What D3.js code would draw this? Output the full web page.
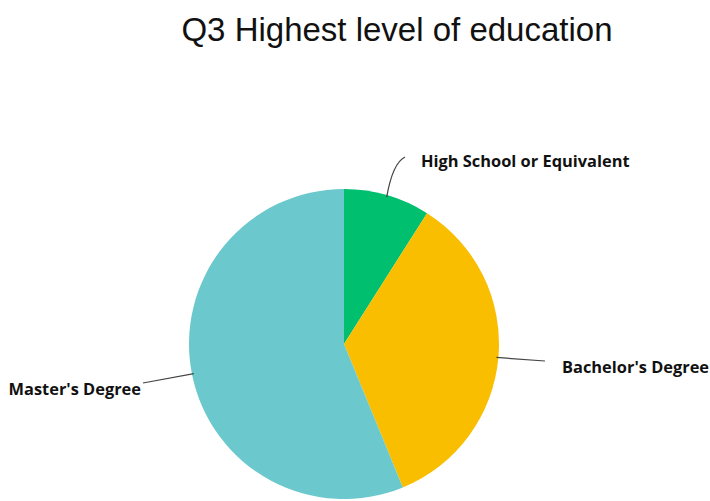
<!DOCTYPE html>
<html>
<head>
<meta charset="utf-8">
<script src="https://cdn.jsdelivr.net/npm/d3@7"></script>
<style>
  body { margin: 0; background: #fff; }
  #vis { width: 710px; height: 501px; }
  .title { font-family: "Liberation Sans", Arial, sans-serif; font-size: 33px; fill: #111; }
  .lbl { font-family: "Open Sans", sans-serif; font-weight: 700; font-size: 16.4px; fill: #111; }
</style>
</head>
<body>
<div id="vis"></div>
<script>
var categories = ["High School or Equivalent", "Bachelor's Degree", "Master's Degree"];
var values = [9.0, 34.8, 56.2];
var colors = ["#00BF6F", "#F9BE00", "#6BC8CD"];

var width = 710, height = 501;
var cx = 344, cy = 344, radius = 155;

var svg = d3.select("#vis")
    .append("svg")
    .attr("width", width)
    .attr("height", height);

svg.append("text")
    .attr("class", "title")
    .attr("x", 397)
    .attr("y", 41)
    .attr("text-anchor", "middle")
    .text("Q3 Highest level of education");

var data = categories.map(function(c, i) {
    return { name: c, value: values[i], color: colors[i] };
});

var pie = d3.pie()
    .sort(null)
    .value(function(d) { return d.value; });

var arc = d3.arc()
    .innerRadius(0)
    .outerRadius(radius);

var g = svg.append("g")
    .attr("transform", "translate(" + cx + "," + cy + ")");

var arcs = pie(data);

g.selectAll(".slice")
    .data(arcs)
    .enter()
    .append("path")
    .attr("class", "slice")
    .attr("d", arc)
    .attr("fill", function(d) { return d.data.color; });

// leader lines + labels, placed relative to each slice's mid angle
function edge(d, r) {
    var a = (d.startAngle + d.endAngle) / 2;
    return [r * Math.sin(a), -r * Math.cos(a)];
}

var labelOffsets = [
    { end: [61, -187], text: [77, -177], anchor: "start", curve: true },
    { end: [201, 17], text: [218, 29], anchor: "start", curve: false },
    { end: [-201, 39], text: [-203, 51], anchor: "end", curve: false }
];

arcs.forEach(function(d, i) {
    var p0 = edge(d, radius - 2);
    var o = labelOffsets[i];
    var path;
    if (o.curve) {
        path = "M" + p0[0] + "," + p0[1] +
            " Q" + (p0[0] + 6) + "," + (o.end[1] + 6) + " " + o.end[0] + "," + o.end[1];
    } else {
        path = "M" + p0[0] + "," + p0[1] + " L" + o.end[0] + "," + o.end[1];
    }
    g.append("path")
        .attr("d", path)
        .attr("fill", "none")
        .attr("stroke", "#444")
        .attr("stroke-width", 1.2);
    g.append("text")
        .attr("class", "lbl")
        .attr("x", o.text[0])
        .attr("y", o.text[1])
        .attr("text-anchor", o.anchor)
        .text(d.data.name);
});
</script>
</body>
</html>
